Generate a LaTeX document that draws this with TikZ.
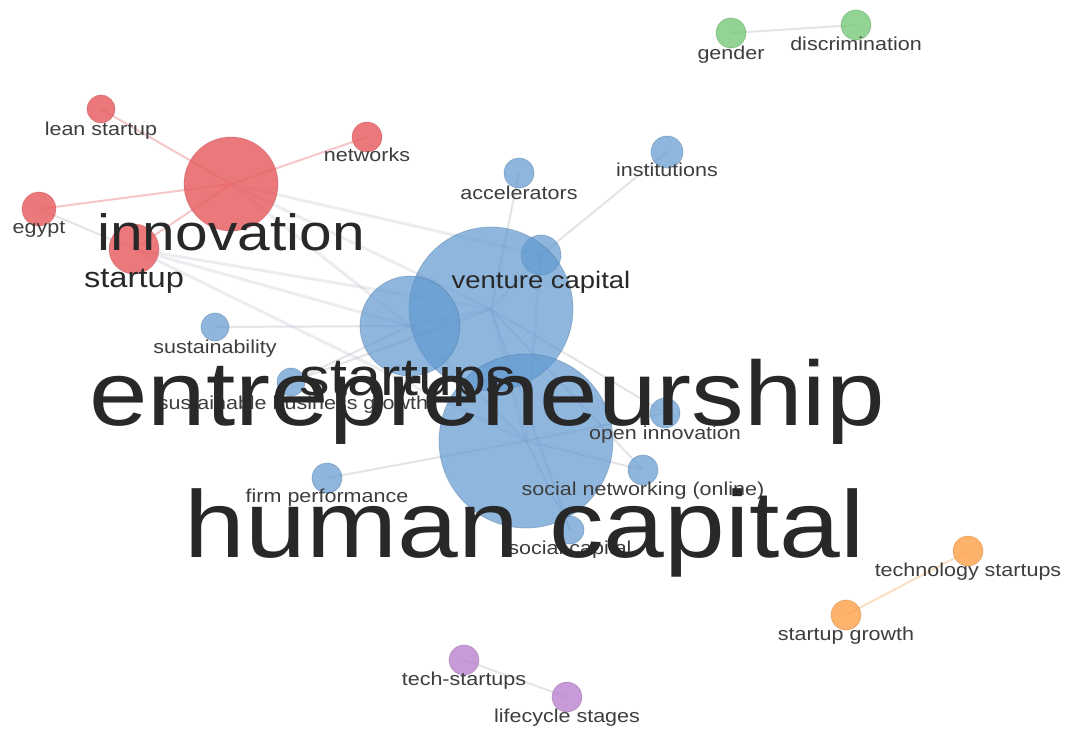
\documentclass[tikz,border=0pt]{standalone}
\usepackage{fontspec}
\newfontfamily\lab{Liberation Sans}[FakeStretch=1.15]
\usetikzlibrary{backgrounds}
\definecolor{cred}{RGB}{232,96,100}
\definecolor{cblue}{RGB}{96,152,208}
\definecolor{cgreen}{RGB}{120,200,120}
\definecolor{corange}{RGB}{252,160,70}
\definecolor{cpurple}{RGB}{185,130,205}
\definecolor{txt}{RGB}{40,40,40}
\definecolor{egray}{RGB}{190,195,205}
\definecolor{epink}{RGB}{240,160,165}
\definecolor{eorange}{RGB}{250,210,170}
\tikzset{
  kw/.style={circle, inner sep=0pt, minimum size=#1, line width=0.8pt},
  redn/.style={kw=#1, fill=cred, fill opacity=0.85, draw=cred!80!black, draw opacity=0.35},
  bluen/.style={kw=#1, fill=cblue, fill opacity=0.7, draw=cblue!70!black, draw opacity=0.35},
  greenn/.style={kw=#1, fill=cgreen, fill opacity=0.8, draw=cgreen!70!black, draw opacity=0.35},
  orangen/.style={kw=#1, fill=corange, fill opacity=0.8, draw=corange!70!black, draw opacity=0.3},
  purplen/.style={kw=#1, fill=cpurple, fill opacity=0.8, draw=cpurple!70!black, draw opacity=0.3},
  small/.style={anchor=base, inner sep=0pt, text=txt!90!white, font=\lab\fontsize{18.7}{20}\selectfont},
  big/.style={anchor=base, inner sep=0pt, text=txt, font=\lab\fontsize{#1}{#1}\selectfont},
  ge/.style={draw=egray, draw opacity=0.3, line width=3pt},
  gthin/.style={draw=egray, draw opacity=0.45, line width=2pt},
  pe/.style={draw=epink, draw opacity=0.6, line width=2pt},
  oe/.style={draw=eorange, draw opacity=0.7, line width=2pt},
}
\begin{document}
\begin{tikzpicture}[x=1pt,y=-1pt]
\useasboundingbox (0,0) rectangle (1065,728);
% red cluster
\node[redn=94pt] (inn) at (231,184) {};
\node[redn=28pt] (lean) at (101,109) {};
\node[redn=30pt] (netw) at (367,137) {};
\node[redn=34pt] (egy) at (39,209) {};
\node[redn=50pt] (stup) at (134,249) {};
% green
\node[greenn=30pt] (gen) at (731,33) {};
\node[greenn=30pt] (disc) at (856,25) {};
% blue
\node[bluen=30pt] (acc) at (519,173) {};
\node[bluen=32pt] (inst) at (667,152) {};
\node[bluen=40pt] (vc) at (541,255) {};
\node[bluen=164pt] (ent) at (491,309) {};
\node[bluen=100pt] (sts) at (410,326) {};
\node[bluen=174pt] (hc) at (526,441) {};
\node[bluen=28pt] (sust) at (215,327) {};
\node[bluen=28pt] (sbg) at (291,382) {};
\node[bluen=30pt] (oi) at (665,413) {};
\node[bluen=30pt] (snet) at (643,470) {};
\node[bluen=30pt] (firm) at (327,478) {};
\node[bluen=28pt] (sc) at (570,530) {};
% orange
\node[orangen=30pt] (tst) at (968,551) {};
\node[orangen=30pt] (sgr) at (846,615) {};
% purple
\node[purplen=30pt] (tch) at (464,660) {};
\node[purplen=30pt] (lcs) at (567,697) {};
% edges
\begin{scope}[on background layer]
\draw[pe] (inn.center) -- (lean.center);
\draw[pe] (inn.center) -- (netw.center);
\draw[pe] (inn.center) -- (egy.center);
\draw[pe] (inn.center) -- (stup.center);
\draw[gthin] (egy.center) -- (stup.center);
\draw[ge] (inn.center) -- (ent.center);
\draw[ge] (inn.center) -- (vc.center);
\draw[ge] (inn.center) -- (sts.center);
\draw[ge] (stup.center) -- (ent.center);
\draw[ge] (stup.center) -- (sts.center);
\draw[ge] (stup.center) -- (hc.center);
\draw[gthin] (acc.center) -- (ent.center);
\draw[gthin] (inst.center) -- (vc.center);
\draw[gthin] (sust.center) -- (sts.center);
\draw[gthin] (sbg.center) -- (sts.center);
\draw[gthin] (sbg.center) -- (ent.center);
\draw[gthin] (firm.center) -- (hc.center);
\draw[gthin] (oi.center) -- (ent.center);
\draw[gthin] (oi.center) -- (hc.center);
\draw[gthin] (snet.center) -- (hc.center);
\draw[gthin] (snet.center) -- (ent.center);
\draw[gthin] (sc.center) -- (hc.center);
\draw[gthin] (sc.center) -- (ent.center);
\draw[ge] (vc.center) -- (ent.center);
\draw[ge] (sts.center) -- (ent.center);
\draw[ge] (hc.center) -- (ent.center);
\draw[ge] (sts.center) -- (hc.center);
\draw[ge] (vc.center) -- (hc.center);
\draw[gthin] (gen.center) -- (disc.center);
\draw[oe] (tst.center) -- (sgr.center);
\draw[gthin] (tch.center) -- (lcs.center);
\end{scope}
% labels
\node[small] (l-lean) at (101,135) {lean startup};
\node[small] (l-netw) at (367,161) {networks};
\node[small] (l-egy) at (39,233) {egypt};
\node[small] (l-acc) at (519,199) {accelerators};
\node[small] (l-inst) at (667,176) {institutions};
\node[small] (l-sust) at (215,353) {sustainability};
\node[small] (l-sbg) at (293,409) {sustainable business growth};
\node[small] (l-oi) at (665,439) {open innovation};
\node[small] (l-snet) at (643,495) {social networking (online)};
\node[small] (l-firm) at (327,502) {firm performance};
\node[small] (l-sc) at (570,554) {social capital};
\node[small] (l-gen) at (731,59) {gender};
\node[small] (l-disc) at (856,50) {discrimination};
\node[small] (l-tst) at (968,576) {technology startups};
\node[small] (l-sgr) at (846,640) {startup growth};
\node[small] (l-tch) at (464,685) {tech-startups};
\node[small] (l-lcs) at (567,722) {lifecycle stages};
\node[big=23.9] (l-vc) at (541,288) {venture capital};
\node[big=28.4] (l-stup) at (134,287) {startup};
\node[big=51] (l-inn) at (231,250) {innovation};
\node[big=53] (l-sts) at (408,395) {startups};
\node[big=91.5] (l-ent) at (487,425) {entrepreneurship};
\node[big=95] (l-hc) at (525,557) {human capital};
\end{tikzpicture}
\end{document}
